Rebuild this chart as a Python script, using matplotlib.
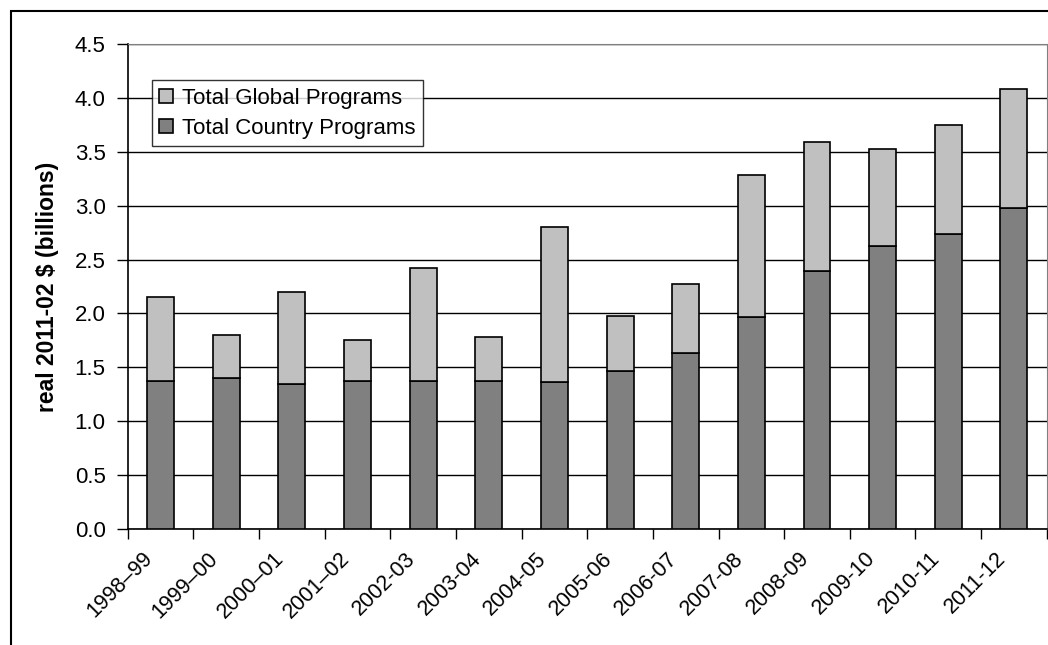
import numpy as np
import matplotlib
matplotlib.use("Agg")
import matplotlib.pyplot as plt
from matplotlib.patches import Rectangle
from matplotlib.transforms import ScaledTranslation

plt.rcParams['font.family'] = ['Liberation Sans', 'DejaVu Sans']

years = ["1998–99", "1999–00", "2000–01", "2001–02", "2002-03", "2003-04", "2004-05",
         "2005-06", "2006-07", "2007-08", "2008-09", "2009-10", "2010-11", "2011-12"]
# bar totals (country + global) and country part, billions
total = [2.15, 1.80, 2.20, 1.75, 2.42, 1.78, 2.80, 1.98, 2.27, 3.28, 3.59, 3.53, 3.75, 4.08]
country = [1.37, 1.40, 1.35, 1.37, 1.37, 1.37, 1.36, 1.47, 1.63, 1.97, 2.39, 2.63, 2.74, 2.98]
global_prog = [t - c for t, c in zip(total, country)]

fig = plt.figure(figsize=(10.48, 6.45), dpi=100)
ax = fig.add_axes([0.1219, 0.1798, 0.8769, 0.752])

x = np.arange(len(years))
ax.bar(x, country, width=0.41, color="#808080", edgecolor="black", linewidth=1.2,
       label="Total Country Programs", zorder=3)
ax.bar(x, global_prog, width=0.41, bottom=country, color="#C0C0C0", edgecolor="black",
       linewidth=1.2, label="Total Global Programs", zorder=3)

ax.set_xlim(-0.5, len(years) - 0.5)
ax.set_ylim(0, 4.5)
ax.set_yticks(np.arange(0, 4.51, 0.5))
ax.set_yticklabels([f"{v:.1f}" for v in np.arange(0, 4.51, 0.5)], fontsize=16)
ax.yaxis.grid(True, color="black", linewidth=1.0, zorder=0)

ax.set_xticks(x)
ax.set_xticklabels(years, rotation=45, ha="right", va="center", rotation_mode="anchor", fontsize=15.5)
ax.tick_params(axis="x", which="major", length=0, pad=19)
shift = ScaledTranslation(-11 / 100, 0, fig.dpi_scale_trans)
for lab in ax.get_xticklabels():
    lab.set_transform(lab.get_transform() + shift)
ax.set_xticks(np.arange(-0.5, len(years), 1), minor=True)
ax.tick_params(axis="x", which="minor", length=7, width=1, direction="out")
ax.tick_params(axis="y", length=8, width=1, direction="out", pad=8)

for s in ["top", "right"]:
    ax.spines[s].set_color("#808080")
ax.spines["left"].set_linewidth(1.2)
ax.spines["bottom"].set_linewidth(1.2)

ax.set_ylabel("real 2011-02 $ (billions)", fontsize=16.5, fontweight="bold", labelpad=11)

h, l = ax.get_legend_handles_labels()
leg = ax.legend(h[::-1], l[::-1], loc="upper left", bbox_to_anchor=(0.026, 0.926),
                fontsize=16, frameon=True, fancybox=False, edgecolor="black",
                handlelength=0.6, handleheight=0.6, handletextpad=0.4,
                borderpad=0.35, labelspacing=0.4, borderaxespad=0)
leg.get_frame().set_linewidth(1.0)

# outer chart border (partially cropped in original)
fig.patches.append(Rectangle((11 / 1048, -0.05), 1.0, 1 - 11 / 645 + 0.05, transform=fig.transFigure,
                             fill=False, edgecolor="black", linewidth=1.5))

fig.savefig("out.png", dpi=100)
